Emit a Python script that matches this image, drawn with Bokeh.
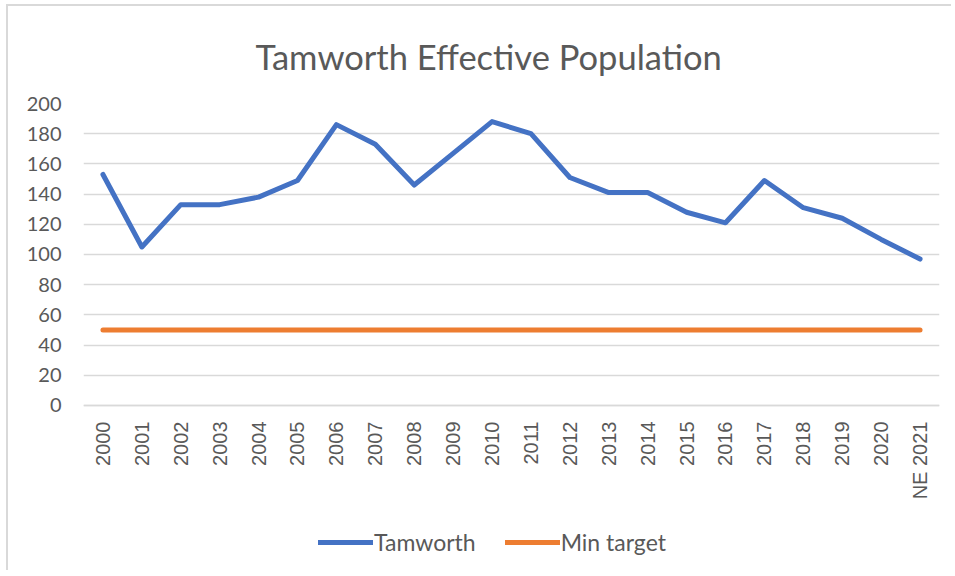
from bokeh.plotting import figure
from bokeh.models import Range1d, FactorRange, Legend, LegendItem, ColumnDataSource, Title
from bokeh.embed import file_html
from bokeh.resources import INLINE
import math

years = ["2000", "2001", "2002", "2003", "2004", "2005", "2006", "2007", "2008", "2009", "2010",
         "2011", "2012", "2013", "2014", "2015", "2016", "2017", "2018", "2019", "2020", "NE 2021"]
tamworth = [153, 105, 133, 133, 138, 149, 186, 173, 146, 167, 188,
            180, 151, 141, 141, 128, 121, 149, 131, 124, 110, 97]
min_target = [50, 50, 50, 50, 50, 50, 50, 50, 50, 50, 50,
              50, 50, 50, 50, 50, 50, 50, 50, 50, 50, 50]
y_ticks = [0, 20, 40, 60, 80, 100, 120, 140, 160, 180, 200]

src = ColumnDataSource(dict(x=years, t=tamworth, m=min_target))

# frame spans below the value axis so that the category labels and legend sit inside it
p = figure(width=945, height=566, output_backend="svg", toolbar_location=None,
           x_range=FactorRange(*years, range_padding=0), y_range=Range1d(-110.6, 200),
           min_border_left=75, min_border_right=14, min_border_top=97, min_border_bottom=0)
p.styles = {"border-left": "2px solid #d9d9d9", "border-top": "2px solid #d9d9d9",
            "margin-left": "6px", "margin-top": "4px"}
p.outline_line_color = None
p.title = Title(text="Tamworth Effective Population", align="left", offset=172,
                text_font="Lato", text_font_size="34.5px", text_color="#595959",
                text_font_style="normal", standoff=53)

p.xgrid.grid_line_color = None
p.ygrid.grid_line_color = "#d9d9d9"
p.ygrid.grid_line_width = 1.5
p.yaxis.ticker = y_ticks
p.yaxis.axis_line_color = None
p.yaxis.major_tick_line_color = None
p.yaxis.minor_tick_line_color = None
p.yaxis.major_tick_out = 0
p.yaxis.major_tick_in = 0
p.yaxis.major_label_text_font = "Lato"
p.yaxis.major_label_text_font_size = "20px"
p.yaxis.major_label_text_color = "#595959"
p.yaxis.major_label_standoff = 22

p.xaxis.fixed_location = 0
p.xaxis.axis_line_color = "#d9d9d9"
p.xaxis.axis_line_width = 1.5
p.xaxis.major_tick_line_color = None
p.xaxis.minor_tick_line_color = None
p.xaxis.major_tick_out = 0
p.xaxis.major_tick_in = 0
p.xaxis.major_label_orientation = math.pi / 2
p.xaxis.major_label_text_font = "Liberation Sans"
p.xaxis.major_label_text_font_size = "20px"
p.xaxis.major_label_text_color = "#595959"
p.xaxis.major_label_standoff = 16

r1 = p.line("x", "t", source=src, line_color="#4472C4", line_width=5,
            line_cap="round", line_join="round")
r2 = p.line("x", "m", source=src, line_color="#ED7D31", line_width=5,
            line_cap="round", line_join="round")

legend = Legend(items=[LegendItem(label="Tamworth", renderers=[r1]),
                       LegendItem(label="Min target", renderers=[r2])],
                orientation="horizontal", location=(235, 16),
                glyph_width=55, glyph_height=24, label_standoff=1, spacing=29,
                label_text_font="Lato", label_text_font_size="23px",
                label_text_color="#595959", border_line_color=None,
                background_fill_alpha=0, padding=0, margin=0)
p.add_layout(legend, "center")

open("out.html", "w").write(file_html(p, INLINE))
